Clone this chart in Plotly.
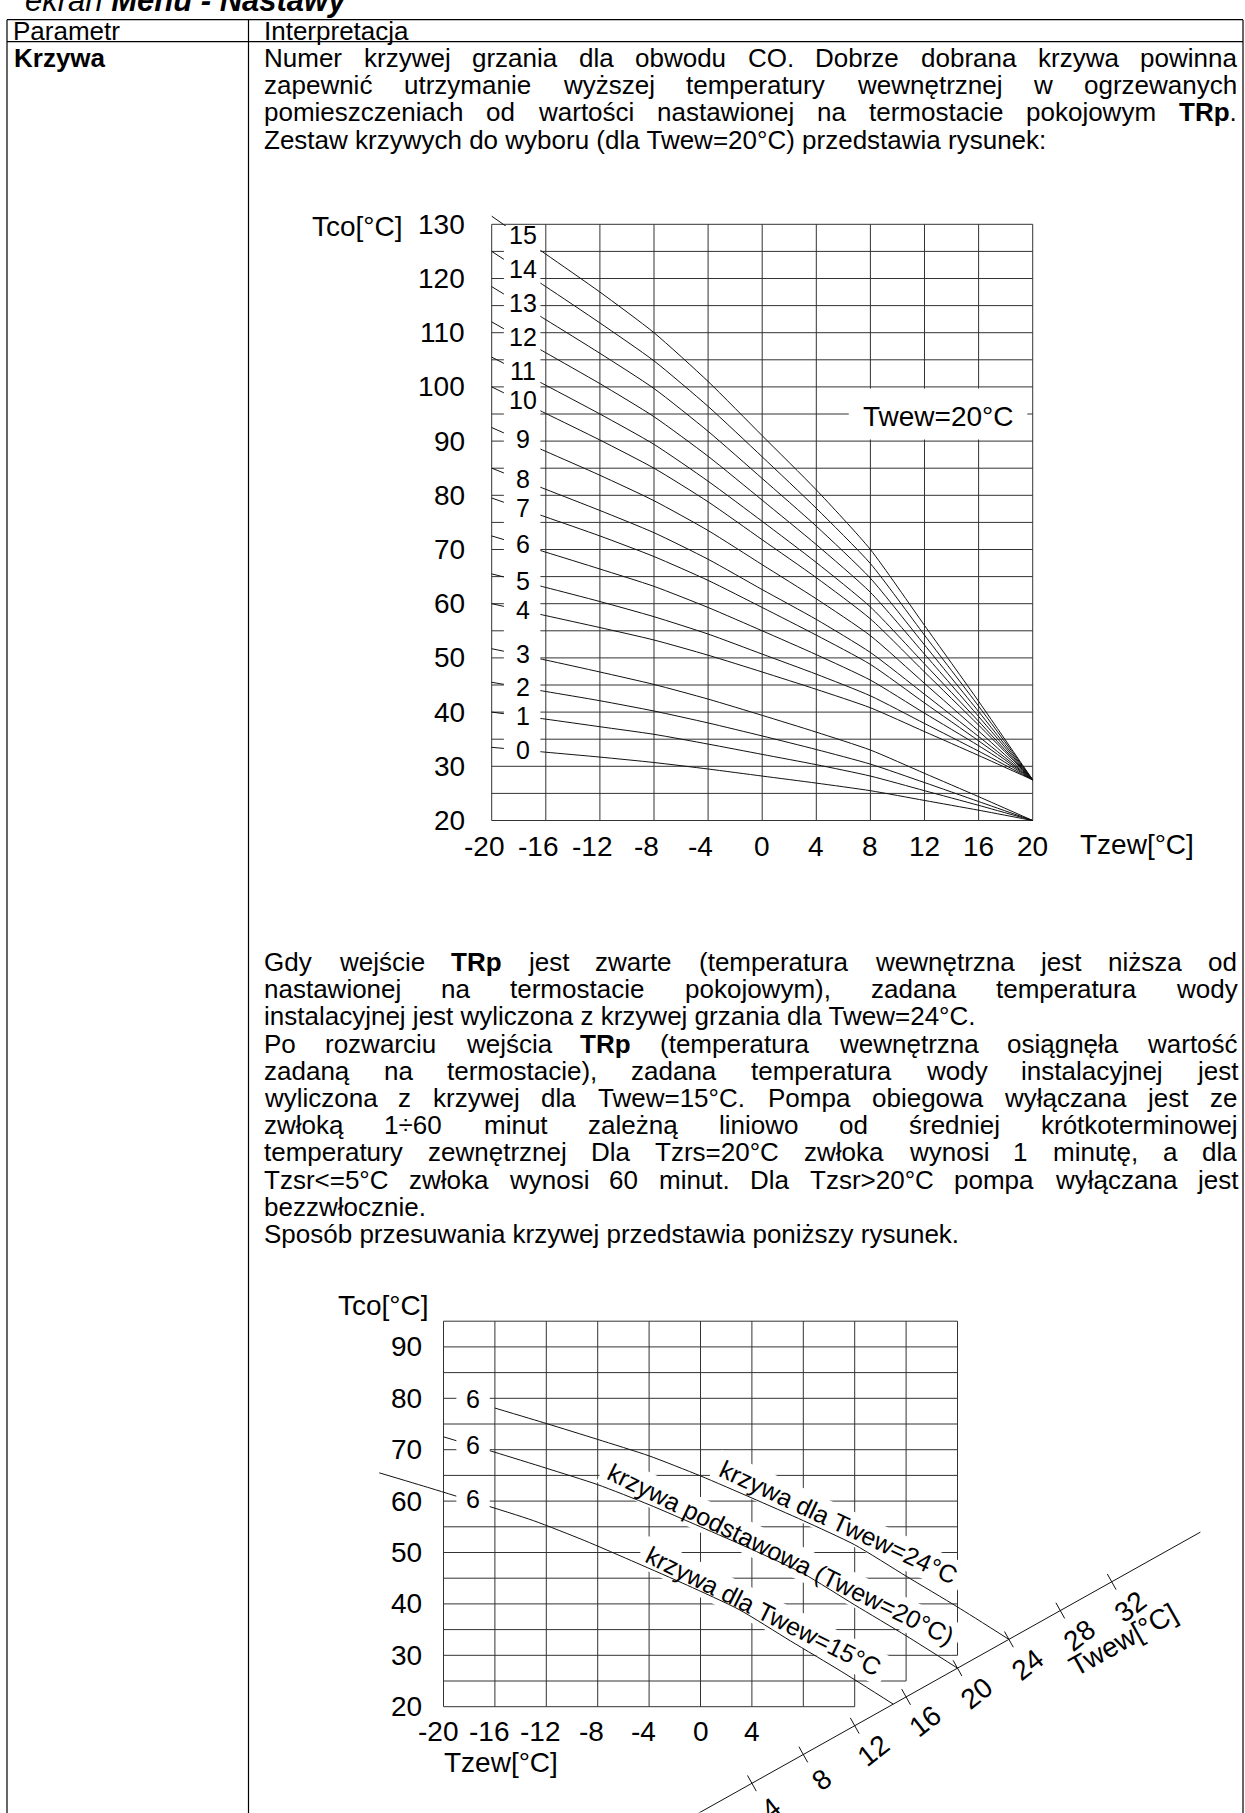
import math
import plotly.graph_objects as go

W, H = 1245, 1813
FONT = "Liberation Sans, Arial, Helvetica, sans-serif"
FS = 26        # body text
FS_CH = 28     # chart labels
FS_LAB = 25    # curve labels
INK = "#111111"
GRID = "#333333"

# ------------------------------------------------------------------ data
TZEW = [-20, -16, -12, -8, -4, 0, 4, 8, 12, 16, 20]
K0 = [33.5, 32.6, 31.7, 30.7, 29.5, 28.2, 26.9, 25.5, 23.7, 21.9, 20.0]
K1 = [40.0, 38.7, 37.3, 35.9, 34.1, 32.2, 30.3, 28.2, 25.5, 22.8, 20.0]
K2 = [45.5, 43.8, 42.1, 40.2, 38.0, 35.6, 33.1, 30.4, 27.0, 23.5, 20.0]
K3 = [51.7, 49.6, 47.4, 45.1, 42.4, 39.4, 36.3, 33.0, 28.7, 24.4, 20.0]
K4 = [60.0, 57.8, 55.6, 53.3, 50.5, 47.4, 44.2, 40.8, 36.4, 32.0, 27.5]
K5 = [65.5, 63.0, 60.4, 57.6, 54.4, 50.7, 47.0, 43.0, 37.9, 32.8, 27.5]
K6 = [72.5, 69.5, 66.4, 63.2, 59.3, 55.0, 50.6, 45.9, 39.8, 33.8, 27.5]
K7 = [79.5, 76.0, 72.5, 68.7, 64.3, 59.3, 54.2, 48.8, 41.7, 34.7, 27.5]
K8 = [85.0, 81.1, 77.2, 73.1, 68.2, 62.6, 57.1, 51.0, 43.3, 35.5, 27.5]
K9 = [92.5, 88.1, 83.7, 79.0, 73.5, 67.2, 60.9, 54.1, 45.3, 36.5, 27.5]
K10 = [100.0, 95.1, 90.2, 85.0, 78.8, 71.8, 64.8, 57.2, 47.4, 37.6, 27.5]
K11 = [105.5, 100.3, 95.0, 89.4, 82.6, 75.2, 67.6, 59.4, 48.9, 38.3, 27.5]
K12 = [112.0, 106.3, 100.6, 94.5, 87.2, 79.1, 70.9, 62.1, 50.7, 39.2, 27.5]
K13 = [118.5, 112.4, 106.2, 99.7, 91.8, 83.1, 74.3, 64.7, 52.4, 40.1, 27.5]
K14 = [125.0, 118.5, 111.8, 104.8, 96.4, 87.1, 77.6, 67.4, 54.2, 41.1, 27.5]
K15 = [131.5, 124.5, 117.5, 110.0, 101.0, 91.0, 81.0, 70.0, 56.0, 42.0, 27.5]
CURVE_LABELS = [str(i) for i in range(16)]
CURVES = [K0, K1, K2, K3, K4, K5, K6, K7, K8, K9, K10, K11, K12, K13, K14, K15]

X1_TICKS = [-20, -16, -12, -8, -4, 0, 4, 8, 12, 16, 20]
Y1_TICKS = [20, 30, 40, 50, 60, 70, 80, 90, 100, 110, 120, 130]
Y1_GRID = [20, 25, 30, 35, 40, 45, 50, 55, 60, 65, 70, 75, 80, 85, 90, 95,
           100, 105, 110, 115, 120, 125, 130]

# chart 2: heating curve no. 6 for Twew = 24 / 20 / 15 degC
C20_X = [-20, -16, -12, -8, -4, 0, 4, 8, 12, 16, 20]
C20 = [72.5, 69.5, 66.4, 63.2, 59.3, 55.0, 50.6, 45.9, 39.8, 33.8, 27.5]
C24_X = [-16, -12, -8, -4, 0, 4, 8, 12, 16, 20, 24]
C24 = [78.1, 75.1, 72.0, 68.8, 64.9, 60.6, 56.2, 51.5, 45.4, 39.4, 33.1]
C15_X = [-25, -21, -17, -13, -9, -5, -1, 3, 7, 11, 15]
C15 = [65.5, 62.5, 59.4, 56.2, 52.3, 48.0, 43.6, 38.9, 32.8, 26.8, 20.5]
X2_TICKS = [-20, -16, -12, -8, -4, 0, 4]
Y2_TICKS = [20, 30, 40, 50, 60, 70, 80, 90]
GRID2_Y = [20, 25, 30, 35, 40, 45, 50, 55, 60, 65, 70, 75, 80, 85, 90, 95]
GRID2_Y_XMAX = [12, 16, 20, 20, 20, 20, 20, 20, 20, 20, 20, 20, 20, 20, 20, 20]
GRID2_X = [-20, -16, -12, -8, -4, 0, 4, 8, 12, 16, 20]
GRID2_X_YMIN = [20, 20, 20, 20, 20, 20, 20, 20, 20, 25, 30]
TWEW_TICKS = [4, 8, 12, 16, 20, 24, 28, 32]
TWEW_REF = (20, 27.5)     # Twew axis passes through (Tzew=20, Tco=27.5)
TWEW_SLOPE = 1.4          # Tco per degC along the Twew axis

PARA1 = [
    ("Numer krzywej grzania dla obwodu CO. Dobrze dobrana krzywa powinna", True),
    ("zapewnić utrzymanie wyższej temperatury wewnętrznej w ogrzewanych", True),
    ("pomieszczeniach od wartości nastawionej na termostacie pokojowym **TRp**.", True),
    ("Zestaw krzywych do wyboru (dla Twew=20°C) przedstawia rysunek:", False),
]
PARA2 = [
    ("Gdy wejście **TRp** jest zwarte (temperatura wewnętrzna jest niższa od", True),
    ("nastawionej na termostacie pokojowym), zadana temperatura wody", True),
    ("instalacyjnej jest wyliczona z krzywej grzania dla Twew=24°C.", False),
    ("Po rozwarciu wejścia **TRp** (temperatura wewnętrzna osiągnęła wartość", True),
    ("zadaną na termostacie), zadana temperatura wody instalacyjnej jest", True),
    ("wyliczona z krzywej dla Twew=15°C. Pompa obiegowa wyłączana jest ze", True),
    ("zwłoką 1÷60 minut zależną liniowo od średniej krótkoterminowej", True),
    ("temperatury zewnętrznej Dla Tzrs=20°C zwłoka wynosi 1 minutę, a dla", True),
    ("Tzsr<=5°C zwłoka wynosi 60 minut. Dla Tzsr>20°C pompa wyłączana jest", True),
    ("bezzwłocznie.", False),
    ("Sposób przesuwania krzywej przedstawia poniższy rysunek.", False),
]

# ------------------------------------------------------------------ helpers
REG = {}
for chars, w in [("ijlł", 222), (" .,:;ft[]I!", 278), ("r()-", 333), ("°", 400),
                 ("ckszvxyćśźżJ", 500), ("abdeghnopquąęńó0123456789L", 556),
                 ("=<>÷+", 584), ("TFZ", 611), ("ABEKPSVXY", 667),
                 ("wCDHNRU", 722), ("GOQ", 778), ("mM", 833), ("W", 944)]:
    for c in chars:
        REG[c] = w
BOLD = {"T": 611, "R": 722, "p": 611}


def segs(s):
    parts = s.split("**")
    return [(p, i % 2 == 1) for i, p in enumerate(parts) if p]


def twidth(s, fs):
    tot = 0
    for p, b in segs(s):
        for c in p:
            tot += BOLD.get(c, REG.get(c, 556) * 1.05) if b else REG.get(c, 556)
    return tot * fs / 1000.0


def html(s):
    out = ""
    for p, b in segs(s):
        e = p.replace("&", "&amp;").replace("<", "&lt;").replace(">", "&gt;")
        out += "<b>%s</b>" % e if b else e
    return out


def pxx(x):
    return x / W


def pxy(y):
    return 1 - y / H


def font(size=FS):
    return dict(family=FONT, size=size, color="black")


annotations = []
shapes = []


def paper_text(text, x, y, xanchor="left", size=FS, **kw):
    annotations.append(dict(text=text, x=pxx(x), y=pxy(y), xref="paper", yref="paper",
                            xanchor=xanchor, yanchor="middle", showarrow=False,
                            font=font(size), borderpad=0, borderwidth=0, **kw))


def hline_px(x0, x1, y, width=1.2):
    shapes.append(dict(type="line", xref="paper", yref="paper", x0=pxx(x0), x1=pxx(x1),
                       y0=pxy(y), y1=pxy(y), line=dict(color="black", width=width)))


def vline_px(x, y0, y1, width=1.2):
    shapes.append(dict(type="line", xref="paper", yref="paper", x0=pxx(x), x1=pxx(x),
                       y0=pxy(y0), y1=pxy(y1), line=dict(color="black", width=width)))


# calibration: (value0, pixel0, value1, pixel1)
X1 = (-20, 491.7, 20, 1032.7)
Y1 = (20, 820.5, 130, 224.3)
X2 = (-20, 443.5, 20, 957.5)
Y2 = (20, 1706.7, 95, 1321.2)


def to_px(v, c):
    v0, p0, v1, p1 = c
    return p0 + (v - v0) * (p1 - p0) / (v1 - v0)


def from_px(p, c):
    v0, p0, v1, p1 = c
    return v0 + (p - p0) * (v1 - v0) / (p1 - p0)


def dom_x(c, r):
    return [to_px(r[0], c) / W, to_px(r[1], c) / W]


def dom_y(c, r):
    return [1 - to_px(r[0], c) / H, 1 - to_px(r[1], c) / H]


# ------------------------------------------------------------------ page / table
TOP, HDR, LEFT, DIV, RIGHT = 19.7, 41.6, 7.0, 248.5, 1243.0
hline_px(LEFT, RIGHT, TOP)
hline_px(LEFT, RIGHT, HDR)
vline_px(LEFT, TOP, H + 2)
vline_px(DIV, TOP, H + 2)
vline_px(RIGHT, TOP, H + 2)

paper_text("<i>ekran <b>Menu - Nastawy</b></i>", 25, 0.5, size=31)
paper_text("Parametr", 13, 31.2)
paper_text("Interpretacja", 264, 31.2)

TXT_L, TXT_R = 264.0, 1237.0
LINE_STEP = 27.2


def paragraph(lines, y0, step):
    for i, (line, just) in enumerate(lines):
        y = y0 + i * step
        if not just:
            paper_text(html(line), TXT_L, y)
            continue
        words = line.split(" ")
        widths = [twidth(w, FS) for w in words]
        gap = (TXT_R - TXT_L - sum(widths)) / (len(words) - 1)
        x = TXT_L
        for w, ww in zip(words, widths):
            paper_text(html(w), x, y)
            x += ww + gap


paper_text("<b>Krzywa</b>", 14, 58.0)
paragraph(PARA1, 58.0, LINE_STEP)
paragraph(PARA2, 962.0, LINE_STEP)

# ------------------------------------------------------------------ chart 1
R1X, R1Y = [-21, 21], [19, 133.5]
traces = []
for lab, ys in zip(CURVE_LABELS, CURVES):
    traces.append(go.Scatter(x=TZEW, y=ys, mode="lines", xaxis="x", yaxis="y",
                             line=dict(color=INK, width=1, shape="spline", smoothing=0.6),
                             hoverinfo="skip", showlegend=False))

for x in X1_TICKS:
    shapes.append(dict(type="line", xref="x", yref="y", x0=x, x1=x, y0=Y1_GRID[0], y1=Y1_GRID[-1],
                       layer="below", line=dict(color=GRID, width=1)))
for y in Y1_GRID:
    shapes.append(dict(type="line", xref="x", yref="y", x0=X1_TICKS[0], x1=X1_TICKS[-1], y0=y, y1=y,
                       layer="below", line=dict(color=GRID, width=1)))
# white column behind the curve numbers, white box behind "Twew=20°C"
shapes.append(dict(type="rect", xref="x", yref="y", x0=-19.1, x1=-16.4, y0=31.0, y1=129.7,
                   layer="above", fillcolor="white", line=dict(width=0)))
shapes.append(dict(type="rect", xref="x", yref="y", x0=6.4, x1=19.6, y0=90.3, y1=99.7,
                   layer="above", fillcolor="white", line=dict(width=0)))

for lab, ys in zip(CURVE_LABELS, CURVES):
    annotations.append(dict(text=lab, x=-17.7, y=(ys[0] + ys[1]) / 2, xref="x", yref="y",
                            showarrow=False, font=font(FS_LAB), xanchor="center", yanchor="middle"))
annotations.append(dict(text="Twew=20°C", x=13.0, y=94.6, xref="x", yref="y", showarrow=False,
                        font=font(FS_CH), xanchor="center", yanchor="middle"))
for v in Y1_TICKS:
    annotations.append(dict(text=str(v), x=pxx(466.7), y=v, xref="paper", yref="y", showarrow=False,
                            font=font(FS_CH), xanchor="right", yanchor="middle"))
for v in X1_TICKS:
    annotations.append(dict(text=str(v), x=v, y=pxy(846.5), xref="x", yref="paper", showarrow=False,
                            font=font(FS_CH), xanchor="center", yanchor="middle",
                            xshift=-8 if v < 0 else 0))
paper_text("Tco[°C]", 311.7, 226.7, size=FS_CH)
paper_text("Tzew[°C]", 1080.0, 844.0, size=FS_CH)

# ------------------------------------------------------------------ chart 2
R2X, R2Y = [-26, 40], [-0.6, 97]
for xs, ys in [(C24_X, C24), (C20_X, C20), (C15_X, C15)]:
    traces.append(go.Scatter(x=xs, y=ys, mode="lines", xaxis="x2", yaxis="y2",
                             line=dict(color=INK, width=1, shape="spline", smoothing=0.6),
                             hoverinfo="skip", showlegend=False))

for x, ymin in zip(GRID2_X, GRID2_X_YMIN):
    shapes.append(dict(type="line", xref="x2", yref="y2", x0=x, x1=x, y0=ymin, y1=GRID2_Y[-1],
                       layer="below", line=dict(color=GRID, width=1)))
for y, xmax in zip(GRID2_Y, GRID2_Y_XMAX):
    shapes.append(dict(type="line", xref="x2", yref="y2", x0=GRID2_X[0], x1=xmax, y0=y, y1=y,
                       layer="below", line=dict(color=GRID, width=1)))


def twew_pt(t):
    return t, TWEW_REF[1] + TWEW_SLOPE * (t - TWEW_REF[0])


# Twew axis line and ticks
a0, a1 = twew_pt(-1.0), twew_pt(38.9)
traces.append(go.Scatter(x=[a0[0], a1[0]], y=[a0[1], a1[1]], mode="lines", xaxis="x2", yaxis="y2",
                         line=dict(color=INK, width=1), hoverinfo="skip", showlegend=False))
kx = (X2[3] - X2[1]) / (X2[2] - X2[0])
ky = (Y2[1] - Y2[3]) / (Y2[2] - Y2[0])
ux, uy = kx, -ky * TWEW_SLOPE
n = math.hypot(ux, uy)
ux, uy = ux / n, uy / n
perp = (-uy, ux)  # pixel direction, right & down
tx, ty = [], []
for t in TWEW_TICKS:
    cx, cy = twew_pt(t)
    dx = 9 * perp[0] / kx
    dy = 9 * perp[1] / ky
    tx += [cx - dx, cx + dx, None]
    ty += [cy + dy, cy - dy, None]
    annotations.append(dict(text=str(t), x=cx + 19 / kx, y=cy - 25 / ky, xref="x2", yref="y2",
                            showarrow=False, font=font(FS_CH), textangle=-38,
                            xanchor="center", yanchor="middle"))
traces.append(go.Scatter(x=tx, y=ty, mode="lines", xaxis="x2", yaxis="y2",
                         line=dict(color=INK, width=1), hoverinfo="skip", showlegend=False))
axis_ang = math.degrees(math.atan2(-uy, ux))
annotations.append(dict(text="Twew[°C]", x=32.94, y=32.98, xref="x2", yref="y2",
                        showarrow=False, font=font(FS_CH), textangle=-axis_ang,
                        xanchor="center", yanchor="middle"))

# curve labels "6" with white boxes
for ly in [79.9, 71.0, 60.4]:
    shapes.append(dict(type="rect", xref="x2", yref="y2", x0=-19.0, x1=-16.4, y0=ly - 2.8,
                       y1=ly + 2.8, layer="above", fillcolor="white", line=dict(width=0)))
    annotations.append(dict(text="6", x=-17.7, y=ly, xref="x2", yref="y2", showarrow=False,
                            font=font(FS_LAB), xanchor="center", yanchor="middle"))

ROT_LABELS = [("krzywa dla Twew=24°C", 10.75, 55.9, 25.0),
              ("krzywa podstawowa (Twew=20°C)", 6.26, 49.7, 26.0),
              ("krzywa dla Twew=15°C", 4.90, 38.6, 26.5)]
for text, cx, cy, ang in ROT_LABELS:
    pcx, pcy = to_px(cx, X2), to_px(cy, Y2)
    L = twidth(text, FS_LAB) / 2 + 6
    hh = 16
    a = math.radians(ang)
    vx, vy = math.cos(a), math.sin(a)
    nx, ny = -math.sin(a), math.cos(a)
    pts = []
    for sx, sy in [(-1, -1), (1, -1), (1, 1), (-1, 1)]:
        px_ = pcx + sx * L * vx + sy * hh * nx
        py_ = pcy + sx * L * vy + sy * hh * ny
        pts.append("%.3f,%.3f" % (from_px(px_, X2), from_px(py_, Y2)))
    shapes.append(dict(type="path", xref="x2", yref="y2", path="M " + " L ".join(pts) + " Z",
                       layer="below", fillcolor="white", line=dict(width=0)))
    annotations.append(dict(text=text, x=cx, y=cy, xref="x2", yref="y2", showarrow=False,
                            font=font(FS_LAB), textangle=ang, xanchor="center", yanchor="middle"))

for v in Y2_TICKS:
    annotations.append(dict(text=str(v), x=pxx(424.0), y=v, xref="paper", yref="y2", showarrow=False,
                            font=font(FS_CH), xanchor="right", yanchor="middle"))
for v in X2_TICKS:
    annotations.append(dict(text=str(v), x=v, y=pxy(1731.0), xref="x2", yref="paper", showarrow=False,
                            font=font(FS_CH), xanchor="center", yanchor="middle",
                            xshift=-6 if v < 0 else 0))
paper_text("Tco[°C]", 338.0, 1305.0, size=FS_CH)
paper_text("Tzew[°C]", 443.5, 1762.0, size=FS_CH)

# ------------------------------------------------------------------ figure
fig = go.Figure(traces)
ax = dict(visible=False, showgrid=False, zeroline=False, fixedrange=True)
fig.update_layout(
    width=W, height=H, margin=dict(l=0, r=0, t=0, b=0),
    paper_bgcolor="white", plot_bgcolor="rgba(0,0,0,0)",
    xaxis=dict(ax, domain=dom_x(X1, R1X), range=R1X, anchor="y"),
    yaxis=dict(ax, domain=dom_y(Y1, R1Y), range=R1Y, anchor="x"),
    xaxis2=dict(ax, domain=dom_x(X2, R2X), range=R2X, anchor="y2"),
    yaxis2=dict(ax, domain=dom_y(Y2, R2Y), range=R2Y, anchor="x2"),
    shapes=shapes, annotations=annotations, showlegend=False,
)
fig.write_html("out.html", config={"displayModeBar": False, "staticPlot": True},
               post_script="document.body.style.margin='0px';document.body.style.overflow='hidden';")
